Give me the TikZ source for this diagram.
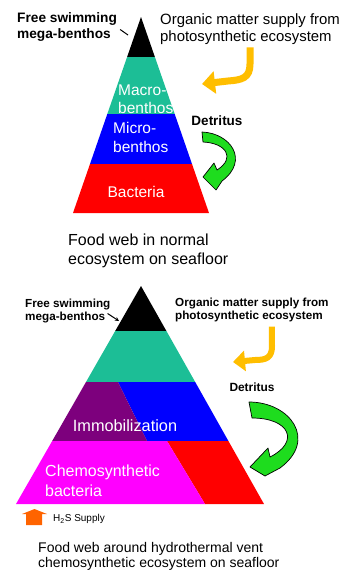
\documentclass[tikz,border=0pt]{standalone}
\usepackage{fontspec}
\setmainfont{Liberation Sans}
\usepackage{xcolor}
\usepackage{tikz}
\usetikzlibrary{arrows.meta}
\definecolor{megablack}{RGB}{0,0,0}
\definecolor{macroteal}{RGB}{28,190,150}
\definecolor{microblue}{RGB}{0,0,255}
\definecolor{bactred}{RGB}{255,0,0}
\definecolor{immopurple}{RGB}{125,0,125}
\definecolor{chemomagenta}{RGB}{255,0,255}
\definecolor{detritgreen}{RGB}{30,220,30}
\definecolor{supplygold}{RGB}{255,190,0}
\definecolor{sulforange}{RGB}{255,100,0}

\begin{document}
\begin{tikzpicture}[x=1pt, y=-1pt,
  blacklabel/.style={inner sep=0pt, align=left, anchor=base west},
  whitelabel/.style={blacklabel, text=white},
  supplyarrow/.style={draw=supplygold, line width=7pt, -{Triangle[width=22pt,length=13pt]}},
  detritusarrow/.style={fill=detritgreen, draw=black, line width=0.7pt, line join=round},
  pointer/.style={line width=1pt, -{Stealth[length=4pt,width=4pt]}}]
\fill[white] (0,0) rectangle (362,571);
\useasboundingbox (0,0) rectangle (362,571);

% normal seafloor
\fill[megablack] (141,17) -- (154.9,57) -- (127.1,57) -- cycle;
\fill[macroteal] (127.1,57) -- (154.9,57) -- (174.7,114) -- (107.3,114) -- cycle;
\fill[microblue] (107.3,114) -- (174.7,114) -- (192,164) -- (90,164) -- cycle;
\fill[bactred] (90,164) -- (192,164) -- (209,213) -- (73,213) -- cycle;

% multi-line labels sit on the baseline of their last line
\node[blacklabel, font=\bfseries\fontsize{13.7}{16}\selectfont] (megaA) at (17,38) {Free swimming\\mega-benthos};
\node[blacklabel, font=\fontsize{14.9}{17}\selectfont] (organicA) at (160,41) {Organic matter supply from\\photosynthetic ecosystem};
\node[blacklabel, anchor=base, font=\bfseries\fontsize{13.5}{16}\selectfont] (detritusA) at (217,125) {Detritus};
\node[whitelabel, font=\fontsize{15.5}{18}\selectfont] (macroA) at (118,113) {Macro-\\benthos};
\node[whitelabel, font=\fontsize{15.5}{19}\selectfont] (microA) at (113,152) {Micro-\\benthos};
\node[whitelabel, anchor=base, font=\fontsize{15.5}{18}\selectfont] (bacteriaA) at (136,197) {Bacteria};
\node[blacklabel, font=\fontsize{16}{19}\selectfont] (captionA) at (68,264) {Food web in normal\\ecosystem on seafloor};

\coordinate (peakA) at (128,35);
\coordinate (feedA) at (202,84);
\draw[line width=1pt] ([xshift=3pt,yshift=-3pt]megaA.east) -- (peakA);
\draw[supplyarrow] ([yshift=-3pt]organicA.south) -- (250,64) .. controls (250,78) and (242,80) .. (228,81) -- (feedA);
\filldraw[detritusarrow] (202,132) .. controls (230,133) and (250,160) .. (222,181) -- (216,190) -- (203,177) -- (214,163) -- (217,170) .. controls (236,158) and (226,143) .. (203,142) -- cycle;

% hydrothermal vent
\fill[megablack] (141,286) -- (166.4,331) -- (115.2,331) -- cycle;
\fill[macroteal] (115.2,331) -- (166.4,331) -- (195.2,382) -- (86,382) -- cycle;
\fill[microblue] (118,382) -- (195.2,382) -- (228.4,441) -- (147,441) -- cycle;
\fill[immopurple] (86,382) -- (118,382) -- (147,441) -- (52.2,441) -- cycle;
\fill[bactred] (167,441) -- (228.4,441) -- (264,504) -- (205,504) -- cycle;
\fill[chemomagenta] (52.2,441) -- (167,441) -- (205,504) -- (16,504) -- cycle;

\node[blacklabel, font=\bfseries\fontsize{11.7}{13}\selectfont] (megaB) at (25,320) {Free swimming\\mega-benthos};
\node[blacklabel, font=\bfseries\fontsize{11.7}{13}\selectfont] (organicB) at (175,319) {Organic matter supply from\\photosynthetic ecosystem};
\node[blacklabel, anchor=base, font=\bfseries\fontsize{11.9}{14}\selectfont] (detritusB) at (252,391) {Detritus};
\node[whitelabel, anchor=base, font=\fontsize{16.3}{19}\selectfont] (immoB) at (125,431) {Immobilization};
\node[whitelabel, font=\fontsize{16}{20}\selectfont] (chemoB) at (45,496) {Chemosynthetic\\bacteria};
\node[blacklabel, font=\fontsize{10}{12}\selectfont] (sulfB) at (53,521.5) {H\textsubscript{2}S Supply};
\node[blacklabel, font=\fontsize{14}{15}\selectfont] (captionB) at (38,567) {Food web around hydrothermal vent\\chemosynthetic ecosystem on seafloor};

\coordinate (peakB) at (119,321);
\coordinate (feedB) at (233,362);
\draw[pointer] ([xshift=-3pt,yshift=-3pt]megaB.east) -- (peakB);
\draw[supplyarrow, line width=6pt, -{Triangle[width=20pt,length=12pt]}] ([xshift=20pt,yshift=-5pt]organicB.south) -- (272,346) .. controls (272,358) and (266,360) .. (255,360) -- (feedB);
\filldraw[detritusarrow] (249,402) .. controls (290,402) and (318,440) .. (280,468) -- (265,476) -- (250,467) -- (268,448) -- (270,457) .. controls (300,442) and (290,418) .. (252,418) -- cycle;
\fill[sulforange] (26,525) -- (26,514) -- (22,514) -- (34.5,509) -- (47,514) -- (42,514) -- (42,525) -- cycle;
\end{tikzpicture}
\end{document}
